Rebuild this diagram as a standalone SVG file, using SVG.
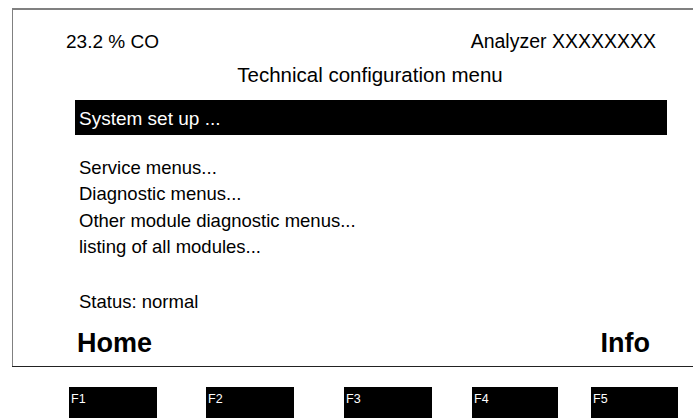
<svg xmlns="http://www.w3.org/2000/svg" width="693" height="418" viewBox="0 0 693 418">
<style>
text{font-family:"Liberation Sans",Arial,sans-serif;fill:#000}
.t{font-size:18.5px}
.b{font-size:27px;font-weight:bold}
.k{font-size:12.5px;fill:#fff}
.key{fill:#000}
</style>
<rect x="0" y="0" width="693" height="418" fill="#fff"/>
<g id="screen">
<line x1="12.5" y1="9" x2="693" y2="9" stroke="#808080" stroke-width="2"/>
<line x1="12.5" y1="8" x2="12.5" y2="367" stroke="#808080" stroke-width="1"/>
<line x1="12" y1="366.5" x2="693" y2="366.5" stroke="#222" stroke-width="1.2"/>
<text class="t" x="66" y="48" style="font-size:19px">23.2 % CO</text>
<text class="t" x="656" y="48" text-anchor="end" style="font-size:19.5px">Analyzer XXXXXXXX</text>
<text class="t" x="370" y="82" text-anchor="middle" style="font-size:20.5px">Technical configuration menu</text>
<rect x="75" y="100" width="592" height="35" fill="#000"/>
<text class="t" x="79" y="125" style="fill:#fff;font-size:19px">System set up ...</text>
<text class="t" x="79" y="174">Service menus...</text>
<text class="t" x="79" y="200">Diagnostic menus...</text>
<text class="t" x="79" y="227">Other module diagnostic menus...</text>
<text class="t" x="79" y="253">listing of all modules...</text>
<text class="t" x="79" y="308">Status: normal</text>
<text class="b" x="77" y="352">Home</text>
<text class="b" x="650" y="352" text-anchor="end">Info</text>
</g>
<g id="F1"><rect class="key" x="69" y="387" width="88" height="31"/><text class="k" x="71" y="403">F1</text></g>
<g id="F2"><rect class="key" x="206" y="387" width="88" height="31"/><text class="k" x="208" y="403">F2</text></g>
<g id="F3"><rect class="key" x="344" y="387" width="88" height="31"/><text class="k" x="346" y="403">F3</text></g>
<g id="F4"><rect class="key" x="472" y="387" width="86" height="31"/><text class="k" x="474" y="403">F4</text></g>
<g id="F5"><rect class="key" x="591" y="387" width="87" height="31"/><text class="k" x="593" y="403">F5</text></g>
<g id="connectors"/>
</svg>
